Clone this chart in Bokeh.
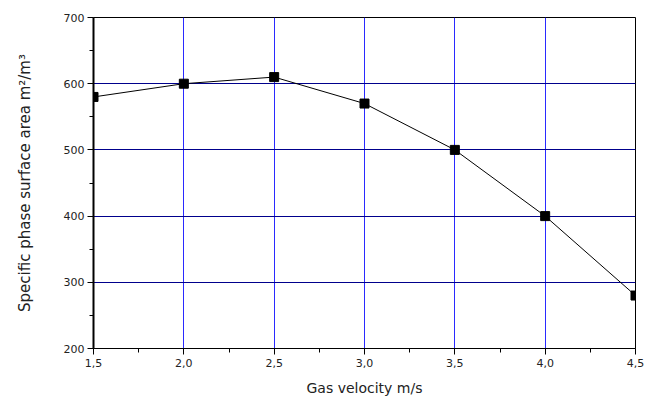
from bokeh.plotting import figure
from bokeh.models import FixedTicker, Range1d
from bokeh.embed import file_html
from bokeh.resources import INLINE

# Data
gas_velocity = [1.5, 2.0, 2.5, 3.0, 3.5, 4.0, 4.5]
surface_area = [580, 600, 610, 570, 500, 400, 280]

x_ticks = [1.5, 2.0, 2.5, 3.0, 3.5, 4.0, 4.5]
x_tick_labels = ["1,5", "2,0", "2,5", "3,0", "3,5", "4,0", "4,5"]
y_ticks = [200, 300, 400, 500, 600, 700]

FONT = "DejaVu Sans"

p = figure(width=647, height=405, output_backend="svg", toolbar_location=None,
           x_range=Range1d(1.5, 4.5), y_range=Range1d(200, 700),
           min_border_left=93, min_border_right=12, min_border_top=17, min_border_bottom=57)

p.outline_line_color = "black"
p.outline_line_width = 1
p.background_fill_color = "white"
p.border_fill_color = "white"

# axes
p.xaxis.ticker = FixedTicker(ticks=x_ticks, minor_ticks=[1.75, 2.25, 2.75, 3.25, 3.75, 4.25])
p.xaxis.major_label_overrides = {t: l for t, l in zip(x_ticks, x_tick_labels)}
p.yaxis.ticker = FixedTicker(ticks=y_ticks, minor_ticks=[250, 350, 450, 550, 650])

for ax in (p.xaxis[0], p.yaxis[0]):
    ax.axis_line_color = "black"
    ax.major_tick_line_color = "black"
    ax.minor_tick_line_color = "black"
    ax.major_tick_out = 6
    ax.major_tick_in = 0
    ax.minor_tick_out = 4
    ax.minor_tick_in = 0
    ax.major_label_text_font = FONT
    ax.major_label_text_font_size = "11px"
    ax.major_label_text_color = "#222222"
    ax.axis_label_text_font = FONT
    ax.axis_label_text_font_size = "14px"
    ax.axis_label_text_font_style = "normal"
    ax.axis_label_text_color = "#222222"

p.yaxis.axis_line_width = 2
p.xaxis.axis_line_width = 1
p.xaxis.major_label_standoff = 4
p.yaxis.major_label_standoff = 3

p.xaxis.axis_label = "Gas velocity m/s"
p.yaxis.axis_label = "Specific phase surface area m²/m³"
p.yaxis.axis_label_text_font_size = "15px"
p.xaxis.axis_label_standoff = 10
p.yaxis.axis_label_standoff = 27

# grids
p.xgrid.ticker = FixedTicker(ticks=[2.0, 2.5, 3.0, 3.5, 4.0])
p.ygrid.ticker = FixedTicker(ticks=[300, 400, 500, 600])
p.xgrid.grid_line_color = "#2a2aff"
p.xgrid.grid_line_width = 1
p.ygrid.grid_line_color = "#00008c"
p.ygrid.grid_line_width = 1

p.line(gas_velocity, surface_area, line_color="black", line_width=1)
p.scatter(gas_velocity, surface_area, marker="square", size=9, fill_color="black", line_color="black")

open("out.html", "w").write(file_html(p, INLINE))
